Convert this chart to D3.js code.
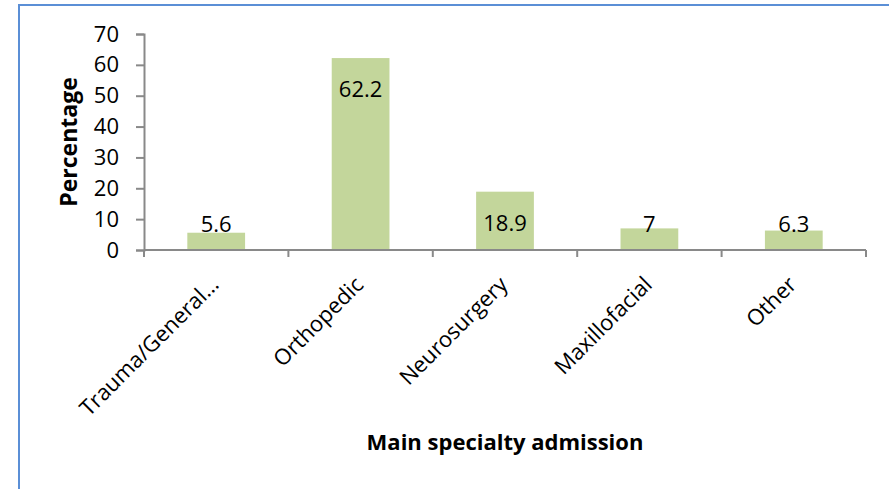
<!DOCTYPE html>
<html>
<head>
<meta charset="utf-8">
<script src="https://cdn.jsdelivr.net/npm/d3@7"></script>
<style>
  body { margin: 0; background: #fff; }
  text { font-family: "Open Sans", sans-serif; fill: #000; }
</style>
</head>
<body>
<script>
// --- Data ---
const categories = ["Trauma/General…", "Orthopedic", "Neurosurgery", "Maxillofacial", "Other"];
const values = [5.6, 62.2, 18.9, 7, 6.3];
const yTicks = [0, 10, 20, 30, 40, 50, 60, 70];

const width = 889, height = 489;
const margin = { top: 34, right: 23, bottom: 239, left: 144 };

const svg = d3.select("body").append("svg")
  .attr("width", width)
  .attr("height", height);

// frame border (runs off the right and bottom edges)
svg.append("rect")
  .attr("x", 19).attr("y", 5)
  .attr("width", width + 20).attr("height", height + 20)
  .attr("fill", "none")
  .attr("stroke", "#5b8fd6")
  .attr("stroke-width", 2);

const x = d3.scaleBand()
  .domain(categories)
  .range([margin.left, width - margin.right])
  .paddingInner(0.6)
  .paddingOuter(0.3);

const y = d3.scaleLinear()
  .domain([0, 70])
  .range([height - margin.bottom, margin.top]);

const axisColor = "#898989";

// bars
svg.append("g").selectAll("rect")
  .data(values)
  .join("rect")
  .attr("x", (d, i) => x(categories[i]))
  .attr("y", d => y(d))
  .attr("width", x.bandwidth())
  .attr("height", d => y(0) - y(d))
  .attr("fill", "#c3d69b");

// y axis
const yAxis = svg.append("g")
  .attr("transform", `translate(${margin.left},0)`)
  .call(d3.axisLeft(y).tickValues(yTicks).tickSize(8).tickPadding(17));
yAxis.select(".domain").attr("stroke", axisColor).attr("stroke-width", 2);
yAxis.selectAll(".tick line").attr("stroke", axisColor).attr("stroke-width", 2);
yAxis.selectAll(".tick text")
  .attr("font-size", 22)
  .style("font-family", "'Open Sans', sans-serif")
  .attr("fill", "#000");

// x axis line + boundary ticks
const x0 = margin.left, x1 = width - margin.right, y0 = y(0);
svg.append("line")
  .attr("x1", x0).attr("x2", x1)
  .attr("y1", y0).attr("y2", y0)
  .attr("stroke", axisColor).attr("stroke-width", 2);
const bounds = d3.range(categories.length + 1).map(i => x0 + i * x.step());
svg.append("g").selectAll("line")
  .data(bounds)
  .join("line")
  .attr("x1", d => d).attr("x2", d => d)
  .attr("y1", y0).attr("y2", y0 + 7)
  .attr("stroke", axisColor).attr("stroke-width", 2);

// category labels, rotated
svg.append("g").selectAll("text")
  .data(categories)
  .join("text")
  .attr("transform", d => `translate(${x(d) + x.bandwidth() / 2 + 4},${y0 + 36}) rotate(-45)`)
  .attr("text-anchor", "end")
  .attr("font-size", 22)
  .text(d => d);

// value labels: inside end, kept above the axis for short bars
svg.append("g").selectAll("text")
  .data(values)
  .join("text")
  .attr("x", (d, i) => x(categories[i]) + x.bandwidth() / 2)
  .attr("y", d => Math.min(y(d) + 39, y0 - 18))
  .attr("text-anchor", "middle")
  .attr("font-size", 22)
  .text(d => d);

// axis titles
svg.append("text")
  .attr("transform", `translate(77,${(y(0) + y(70)) / 2}) rotate(-90)`)
  .attr("text-anchor", "middle")
  .attr("font-size", 23)
  .attr("font-weight", "bold")
  .text("Percentage");

svg.append("text")
  .attr("x", (x0 + x1) / 2)
  .attr("y", 450)
  .attr("text-anchor", "middle")
  .attr("font-size", 22)
  .attr("font-weight", "bold")
  .text("Main specialty admission");
</script>
</body>
</html>
